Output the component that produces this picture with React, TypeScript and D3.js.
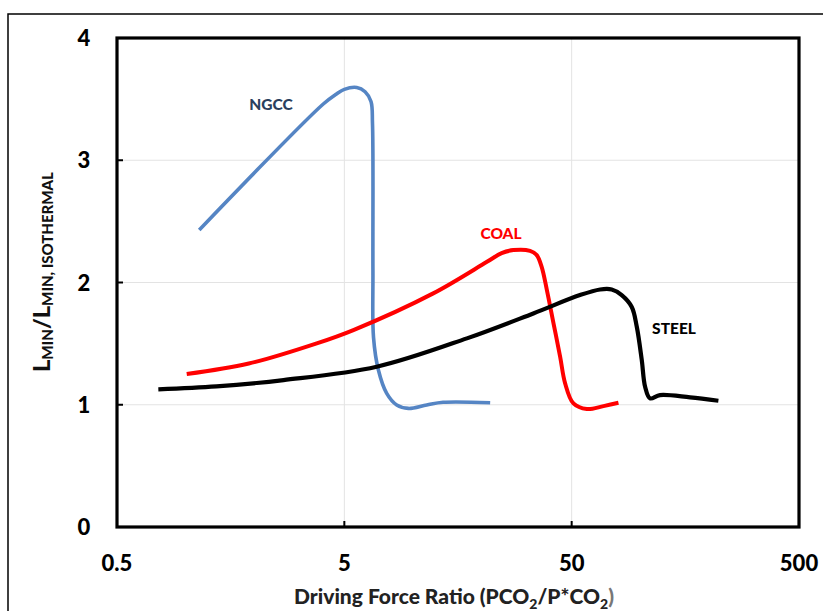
import React from "react";
import * as d3 from "d3";

const xTicks = [0.5, 5, 50, 500];
const xTickLabels = ["0.5", "5", "50", "500"];
const yTicks = [0, 1, 2, 3, 4];
const yTickLabels = ["0", "1", "2", "3", "4"];

const ngccX = [1.15, 4.04, 4.6, 5.0, 5.67, 6.17, 6.55, 6.65, 6.68, 6.72, 7.06, 7.68, 8.5, 9.56, 11.52, 13.6, 21.9];
const ngccY = [2.43, 3.46, 3.54, 3.58, 3.595, 3.56, 3.48, 3.3, 2.1, 1.55, 1.284, 1.093, 0.998, 0.97, 0.998, 1.02, 1.016];

const coalX = [1.013, 1.9, 3.78, 5.48, 12.3, 21.2, 24.6, 27.7, 32.8, 35.1, 36.9, 38.9, 41.6, 44.5, 46.8, 50.9, 58.3, 69.0, 80.3];
const coalY = [1.251, 1.337, 1.502, 1.611, 1.911, 2.169, 2.24, 2.265, 2.259, 2.224, 2.128, 1.938, 1.666, 1.392, 1.175, 1.011, 0.965, 0.989, 1.016];

const steelX = [0.76, 1.37, 2.7, 6.94, 17.3, 33.9, 54.4, 66.7, 75.0, 83.0, 91.9, 96.7, 101.7, 105.2, 110.6, 122.4, 165.9, 221];
const steelY = [1.126, 1.15, 1.202, 1.311, 1.543, 1.747, 1.897, 1.943, 1.943, 1.897, 1.8, 1.638, 1.366, 1.147, 1.052, 1.079, 1.06, 1.033];

const seriesNames = ["NGCC", "COAL", "STEEL"];

const W = 823;
const H = 611;
const L = 117, R = 799, T = 38, B = 527;
const FONT = "Lato, 'Open Sans', sans-serif";

export default function App() {
  const x = d3.scaleLog().domain([0.5, 500]).range([L, R]);
  const y = d3.scaleLinear().domain([0, 4]).range([B, T]);
  const line = d3
    .line<[number, number]>()
    .x((d) => x(d[0]))
    .y((d) => y(d[1]))
    .curve(d3.curveCatmullRom.alpha(0.5));
  const zip = (a: number[], b: number[]) => a.map((v, i) => [v, b[i]] as [number, number]);

  const series = [
    { name: seriesNames[0], d: zip(ngccX, ngccY), color: "#5585C4", width: 3.6, lx: 271, ly: 110, lc: "#2A3F5E" },
    { name: seriesNames[1], d: zip(coalX, coalY), color: "#FF0000", width: 4, lx: 501, ly: 239, lc: "#FF0000" },
    { name: seriesNames[2], d: zip(steelX, steelY), color: "#000000", width: 4.2, lx: 674, ly: 334, lc: "#000000" },
  ];

  return (
    <svg width={W} height={H} style={{ position: "absolute", left: 0, top: 0, background: "#fff" }} fontFamily={FONT}>
      <rect x={8} y={14} width={830} height={610} fill="none" stroke="#000" strokeWidth={1.5} />
      {yTicks.slice(1, -1).map((t) => (
        <line key={"gy" + t} x1={L} x2={R} y1={y(t)} y2={y(t)} stroke="#E3E3E3" strokeWidth={1} />
      ))}
      {xTicks.slice(1, -1).map((t) => (
        <line key={"gx" + t} x1={x(t)} x2={x(t)} y1={T} y2={B} stroke="#E3E3E3" strokeWidth={1} />
      ))}
      {yTicks.slice(1, -1).map((t) => (
        <line key={"ty" + t} x1={L} x2={L + 6} y1={y(t)} y2={y(t)} stroke="#000" strokeWidth={2} />
      ))}
      {xTicks.slice(1, -1).map((t) => (
        <line key={"tx" + t} x1={x(t)} x2={x(t)} y1={B} y2={B - 6} stroke="#000" strokeWidth={2} />
      ))}
      {series.map((s) => (
        <path key={s.name} d={line(s.d) || ""} fill="none" stroke={s.color} strokeWidth={s.width} strokeLinecap="butt" strokeLinejoin="round" />
      ))}
      {series.map((s) => (
        <text key={"l" + s.name} x={s.lx} y={s.ly} textAnchor="middle" fontSize={15.5} fontWeight={900} fill={s.lc}>
          {s.name}
        </text>
      ))}
      <rect x={L} y={T} width={R - L} height={B - T} fill="none" stroke="#000" strokeWidth={3.2} />
      {yTicks.map((t, i) => (
        <text key={"yl" + t} x={84} y={y(t) + 8} textAnchor="middle" fontSize={22} fontWeight={900} fill="#000">
          {yTickLabels[i]}
        </text>
      ))}
      {xTicks.map((t, i) => (
        <text key={"xl" + t} x={x(t)} y={571} textAnchor="middle" fontSize={22} fontWeight={900} fill="#000">
          {xTickLabels[i]}
        </text>
      ))}
      <text x={454} y={604} textAnchor="middle" fontSize={21} fontWeight={900} fill="#222">
        Driving Force Ratio (PCO<tspan fontSize={14} dy={5}>2</tspan>
        <tspan dy={-5}>/P*CO</tspan>
        <tspan fontSize={14} dy={5}>2</tspan>
        <tspan dy={-5} fill="#777">)</tspan>
      </text>
      <text transform="translate(50,272) rotate(-90)" textAnchor="middle" fontSize={23.5} fontWeight={900} fill="#111">
        L<tspan fontSize={15} dy={3}>MIN</tspan>
        <tspan dy={-3}>/L</tspan>
        <tspan fontSize={15} dy={3}>MIN, ISOTHERMAL</tspan>
      </text>
    </svg>
  );
}
